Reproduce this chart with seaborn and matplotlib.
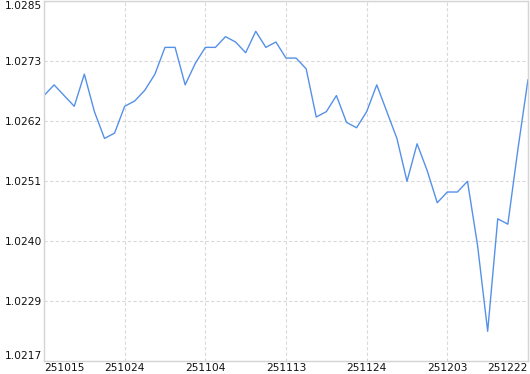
import matplotlib
matplotlib.use("Agg")
import matplotlib.pyplot as plt
import seaborn as sns
import numpy as np
import pandas as pd

# Series values (net value), one per trading day
values = [1.0267, 1.0269, 1.0267, 1.0265, 1.0271, 1.0264, 1.0259, 1.0260, 1.0265,
          1.0266, 1.0268, 1.0271, 1.0276, 1.0276, 1.0269, 1.0273, 1.0276, 1.0276,
          1.0278, 1.0277, 1.0275, 1.0279, 1.0276, 1.0277, 1.0274, 1.0274, 1.0272,
          1.0263, 1.0264, 1.0267, 1.0262, 1.0261, 1.0264, 1.0269, 1.0264, 1.0259,
          1.0251, 1.0258, 1.0253, 1.0247, 1.0249, 1.0249, 1.0251, 1.0239, 1.0223,
          1.0244, 1.0243, 1.0257, 1.0270]

# x tick labels, one every 8 points
tick_labels = ["251015", "251024", "251104", "251113", "251124", "251203", "251222"]
tick_step = 8

# y axis range and tick count
y_min, y_max = 1.02174, 1.02846
n_yticks = 7

df = pd.DataFrame({"idx": np.arange(len(values)), "value": values})

sns.set_style("white")
plt.rcParams["font.family"] = ["DejaVu Sans"]

fig = plt.figure(figsize=(5.30, 3.74), dpi=100)
ax = fig.add_axes([44 / 530, (374 - 361.3) / 374, (528 - 44) / 530, 360 / 374])

sns.lineplot(data=df, x="idx", y="value", ax=ax, color="#5591e8", linewidth=1.0)

ax.set_xlim(0, len(values) - 1)
ax.set_ylim(y_min, y_max)

xt = np.arange(0, len(values), tick_step)
ax.set_xticks(xt)
ax.set_xticklabels(tick_labels)
yt = np.linspace(y_min, y_max, n_yticks)
ax.set_yticks(yt)
ax.set_yticklabels([f"{v:.4f}" for v in yt])

ax.set_xlabel("")
ax.set_ylabel("")

ax.grid(True, color="#d9d9d9", linestyle=(0, (3, 2)), linewidth=0.8)
ax.set_axisbelow(True)
for s in ax.spines.values():
    s.set_color("#d4d4d4")
    s.set_linewidth(1.0)

ax.tick_params(axis="both", length=0, labelsize=7.7, colors="#111111")
ax.tick_params(axis="x", pad=1.2)
ax.tick_params(axis="y", pad=1.2)

xls = ax.get_xticklabels()
xls[0].set_ha("left")
xls[-1].set_ha("right")
yls = ax.get_yticklabels()
yls[0].set_va("bottom")
yls[-1].set_va("top")

fig.savefig("out.png", dpi=100, facecolor="white")
